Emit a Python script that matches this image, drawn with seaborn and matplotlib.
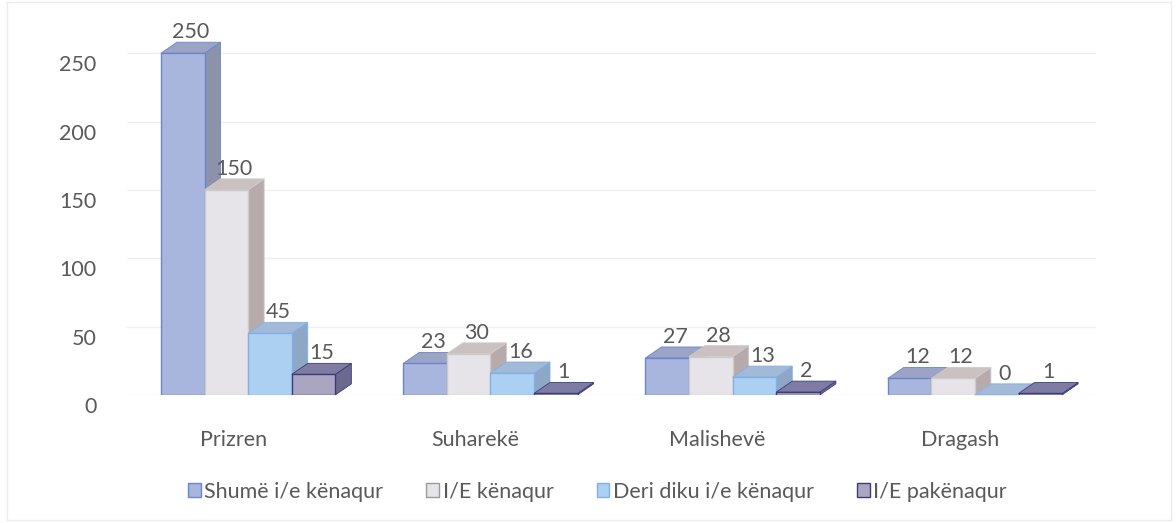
import numpy as np
import pandas as pd
import matplotlib
matplotlib.use("Agg")
import matplotlib.pyplot as plt
import seaborn as sns
from matplotlib.patches import Patch, Rectangle
from matplotlib.transforms import ScaledTranslation

# ---- data ----
districts = ["Prizren", "Suharekë", "Malishevë", "Dragash"]
series = ["Shumë i/e kënaqur", "I/E kënaqur", "Deri diku i/e kënaqur", "I/E pakënaqur"]
shume = [250, 23, 27, 12]
kenaqur = [150, 30, 28, 12]
deri_diku = [45, 16, 13, 0]
pakenaqur = [15, 1, 2, 1]
yticks = [0, 50, 100, 150, 200, 250]

values = [shume, kenaqur, deri_diku, pakenaqur]
df = pd.DataFrame(
    [(d, s, v[i]) for s, v in zip(series, values) for i, d in enumerate(districts)],
    columns=["district", "category", "value"],
)

front = ["#a8b6de", "#e6e4e8", "#acd0f2", "#aaa6c2"]
side = ["#8d92ab", "#b6abaa", "#8fa7c6", "#6b6990"]
top = ["#9ba4c4", "#cac2c0", "#a2b9d8", "#7e7ca3"]
edge = ["#6a85c8", "#cfc9cc", "#80b0e6", "#3c3d78"]
txt = "#595959"
fs = 15.5

sns.set_theme(style="white")
plt.rcParams["font.family"] = ["Lato", "DejaVu Sans"]

fig = plt.figure(figsize=(11.76, 5.23), dpi=100)
ax = fig.add_axes([0.108, 0.245, 0.824, 0.7055])

sns.barplot(data=df, x="district", y="value", hue="category", palette=front,
            width=0.72, gap=0, ax=ax, legend=False, saturation=1)
ax.set_xlim(-0.5, 3.5)
ax.set_ylim(0, 270)

# pseudo-3D depth in data units
ax_w_px = 0.824 * 1176
ax_h_px = 0.7055 * 523
dx = 16 / ax_w_px * 4.0
dy = 11 / ax_h_px * 270.0

for si, cont in enumerate(ax.containers):
    for bar in cont:
        x0 = bar.get_x()
        w = bar.get_width()
        h = bar.get_height()
        x1 = x0 + w
        z = 2 + si * 0.2
        bar.set_edgecolor(edge[si])
        bar.set_linewidth(1.0)
        bar.set_zorder(z + 0.1)
        ax.fill([x1, x1 + dx, x1 + dx, x1], [0, dy, h + dy, h],
                facecolor=side[si], edgecolor=edge[si], linewidth=0.6, zorder=z, clip_on=False)
        ax.fill([x0, x0 + dx, x1 + dx, x1], [h, h + dy, h + dy, h],
                facecolor=top[si], edgecolor=edge[si], linewidth=0.6, zorder=z + 0.05, clip_on=False)
        ax.annotate(f"{int(h)}", (x0 + w / 2 + dx / 2, h + dy), xytext=(0, 0),
                    textcoords="offset points", ha="center", va="bottom",
                    fontsize=fs, color=txt, zorder=10, annotation_clip=False)

for s in ax.spines.values():
    s.set_visible(False)
ax.set_yticks(yticks)
ax.yaxis.grid(True, color="#efefef", linewidth=1.0, zorder=0)
ax.set_axisbelow(True)
ax.set_xlabel("")
ax.set_ylabel("")
ax.tick_params(axis="y", length=0, labelsize=fs, labelcolor=txt, pad=22)
ax.tick_params(axis="x", length=0, labelsize=fs, labelcolor=txt, pad=25)
for lab in ax.get_yticklabels():
    lab.set_transform(lab.get_transform() + ScaledTranslation(0, -0.1, fig.dpi_scale_trans))
for lab in ax.get_xticklabels():
    lab.set_transform(lab.get_transform() + ScaledTranslation(-0.15, 0, fig.dpi_scale_trans))

handles = [Patch(facecolor=front[i], edgecolor=edge[i] if i != 1 else "#9a9a9a", linewidth=1.0)
           for i in range(4)]
fig.legend(handles, series, loc="center", bbox_to_anchor=(0.508, 0.06), ncol=4,
           frameon=False, fontsize=fs, handlelength=0.6, handleheight=0.6,
           handletextpad=0.15, columnspacing=2.0, labelcolor=txt)

fig.patches.append(Rectangle((0.006, 0.006), 0.99, 0.99, transform=fig.transFigure,
                             fill=False, edgecolor="#ececec", linewidth=1.0))

fig.savefig("out.png", dpi=100)
